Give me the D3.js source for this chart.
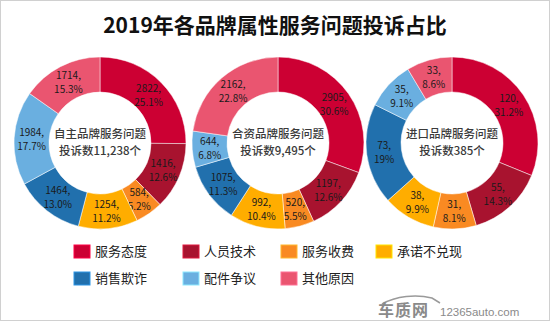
<!DOCTYPE html>
<html>
<head>
<meta charset="utf-8">
<script src="https://cdn.jsdelivr.net/npm/d3@7"></script>
<style>
  body { margin:0; background:#fff; }
  svg { display:block; font-family:"Noto Sans CJK SC","Noto Sans",sans-serif; }
</style>
</head>
<body>
<div id="chart"></div>
<script>
var categories = ["服务态度","人员技术","服务收费","承诺不兑现","销售欺诈","配件争议","其他原因"];
var colors = ["#cc0033","#a8132f","#f98a22","#ffad00","#2170ad","#6aafe0","#ea5570"];

var domesticValues = [2822,1416,584,1254,1464,1984,1714];
var domesticPct = ["25.1%","12.6%","5.2%","11.2%","13.0%","17.7%","15.3%"];
var jointValues = [2905,1197,520,992,1075,644,2162];
var jointPct = ["30.6%","12.6%","5.5%","10.4%","11.3%","6.8%","22.8%"];
var importValues = [120,55,31,38,73,35,33];
var importPct = ["31.2%","14.3%","8.1%","9.9%","19%","9.1%","8.6%"];

var donutTitles = [["自主品牌服务问题","投诉数11,238个"],["合资品牌服务问题","投诉数9,495个"],["进口品牌服务问题","投诉数385个"]];

var width = 550, height = 321;
var svg = d3.select("#chart").append("svg")
	.attr("width", width)
	.attr("height", height);

svg.append("rect")
	.attr("x",0.5).attr("y",0.5)
	.attr("width",width-1).attr("height",height-1)
	.attr("fill","#fff")
	.attr("stroke","#d0d0d0");

svg.append("text")
	.attr("x",275).attr("y",33)
	.attr("text-anchor","middle")
	.style("font-size","21px")
	.style("font-weight","bold")
	.attr("fill","#111")
	.text("2019年各品牌属性服务问题投诉占比");

var color = d3.scaleOrdinal().domain(categories).range(colors);
var outerR = 86, innerR = 51;
var pie = d3.pie().sort(null).value(function(d){ return d.value; });
var arc = d3.arc().innerRadius(innerR).outerRadius(outerR);
var labelArc = d3.arc().innerRadius((innerR+outerR)/2).outerRadius((innerR+outerR)/2);

var donuts = [
	{cx:100, values:domesticValues, pct:domesticPct, title:donutTitles[0]},
	{cx:278, values:jointValues, pct:jointPct, title:donutTitles[1]},
	{cx:452, values:importValues, pct:importPct, title:donutTitles[2]}
];

donuts.forEach(function(dn){
	var data = categories.map(function(c,i){ return {name:c, value:dn.values[i], pct:dn.pct[i]}; });
	var g = svg.append("g").attr("transform","translate("+dn.cx+",143)");
	var slices = g.selectAll(".slice")
		.data(pie(data))
		.enter().append("g")
		.attr("class","slice");
	slices.append("path")
		.attr("d", arc)
		.attr("fill", function(d){ return color(d.data.name); })
		.attr("stroke","#fff")
		.attr("stroke-width",0.5);
	var lbl = slices.append("text")
		.attr("transform", function(d){ return "translate("+labelArc.centroid(d)+")"; })
		.attr("text-anchor","middle")
		.style("font-size","10px")
		.attr("fill","#1a1a1a");
	lbl.append("tspan").attr("x",0).attr("y",-3).text(function(d){ return d.data.value+","; });
	lbl.append("tspan").attr("x",0).attr("y",11).text(function(d){ return d.data.pct; });

	g.selectAll(".center")
		.data(dn.title)
		.enter().append("text")
		.attr("class","center")
		.attr("text-anchor","middle")
		.attr("y", function(d,i){ return -5 + i*17; })
		.style("font-size","11.5px")
		.style("font-weight","500")
		.attr("fill","#3a3a3a")
		.text(function(d){ return d; });
});

// legend
var legendX = [74,183,281,376];
var legend = svg.append("g").selectAll("g")
	.data(categories)
	.enter().append("g")
	.attr("transform", function(d,i){ return "translate("+legendX[i%4]+","+(245+Math.floor(i/4)*27)+")"; });
legend.append("rect")
	.attr("width",16).attr("height",13)
	.attr("fill", color)
	.attr("stroke", function(d){ return d3.color(color(d)).brighter(0.8); })
	.attr("stroke-width",1);
legend.append("text")
	.attr("x",21).attr("y",11)
	.style("font-size","13px")
	.attr("fill","#222")
	.text(function(d){ return d; });

// watermark logo
var logo = svg.append("g").attr("fill","#8a8a8a");
logo.append("path")
	.attr("d","M382,304 C396,296 416,294 432,298 L440,303")
	.attr("fill","none")
	.attr("stroke","#9a9a9a")
	.attr("stroke-width",1.5);
logo.append("text")
	.attr("x",378).attr("y",316)
	.style("font-size","16px")
	.style("font-weight","bold")
	.style("letter-spacing","1px")
	.text("车质网");
logo.append("text")
	.attr("x",440).attr("y",316)
	.style("font-size","11.5px")
	.style("font-family","Arial, 'Liberation Sans', sans-serif")
	.text("12365auto.com");
</script>
</body>
</html>
